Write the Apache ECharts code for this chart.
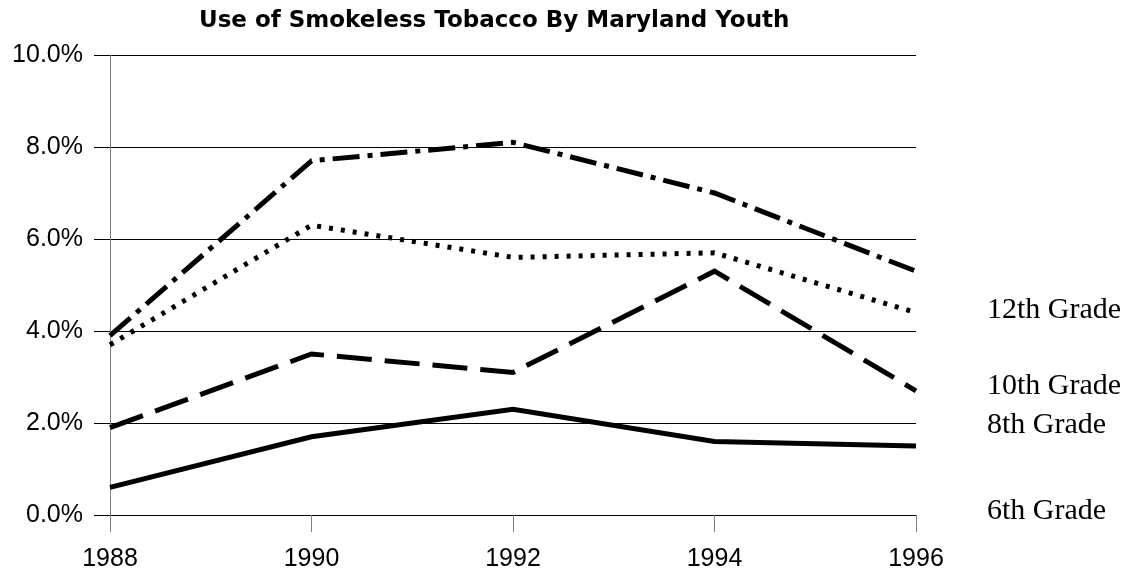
<!DOCTYPE html>
<html>
<head>
<meta charset="utf-8">
<script src="https://cdn.jsdelivr.net/npm/echarts@6/dist/echarts.min.js"></script>
<style>
  html, body { margin: 0; padding: 0; background: #fff; }
  #chart { width: 1139px; height: 573px; }
</style>
</head>
<body>
<div id="chart"></div>
<script>
// Survey years and percent of students using smokeless tobacco
const years = [1988, 1990, 1992, 1994, 1996];
const grade12 = [3.9, 7.7, 8.1, 7.0, 5.3];
const grade10 = [3.7, 6.3, 5.6, 5.7, 4.4];
const grade8 = [1.9, 3.5, 3.1, 5.3, 2.7];
const grade6 = [0.6, 1.7, 2.3, 1.6, 1.5];
const gradeNames = ['12th Grade', '10th Grade', '8th Grade', '6th Grade'];
const yTicks = [0, 2, 4, 6, 8, 10];

const pairs = (vals) => years.map((y, i) => [y, vals[i]]);

// dash patterns for each grade's line
const styles = [
  { data: grade12, dash: [27, 8, 5, 8] },
  { data: grade10, dash: [4, 8] },
  { data: grade8, dash: [35, 13] },
  { data: grade6, dash: 'solid' }
];

// text placement of the grade captions at the right
const captionY = [322, 398, 437, 523];

const chart = echarts.init(document.getElementById('chart'), null, { renderer: 'canvas' });
chart.setOption({
  animation: false,
  backgroundColor: '#ffffff',
  title: {
    text: 'Use of Smokeless Tobacco By Maryland Youth',
    left: 194,
    top: 5,
    textStyle: { fontFamily: 'DejaVu Sans', fontWeight: 'bold', fontSize: 23, color: '#000' }
  },
  grid: { left: 110, right: 223, top: 55, bottom: 58, containLabel: false },
  xAxis: {
    type: 'value',
    min: years[0],
    max: years[years.length - 1],
    interval: 2,
    axisLine: { show: false },
    axisTick: { show: true, length: 17, lineStyle: { color: '#808080', width: 1 } },
    splitLine: { show: false },
    axisLabel: {
      margin: 32,
      fontFamily: 'Liberation Sans, Arial',
      fontSize: 25,
      color: '#000',
      formatter: (v) => String(v)
    }
  },
  yAxis: {
    type: 'value',
    min: yTicks[0],
    max: yTicks[yTicks.length - 1],
    interval: 2,
    axisLine: { show: true, lineStyle: { color: '#808080', width: 1 } },
    axisTick: { show: true, length: 16, lineStyle: { color: '#000', width: 1 } },
    splitLine: { show: true, lineStyle: { color: '#000', width: 1 } },
    axisLabel: {
      margin: 27,
      fontFamily: 'Liberation Sans, Arial',
      fontSize: 25,
      color: '#000',
      formatter: (v) => v.toFixed(1) + '%'
    }
  },
  series: styles.map((s, i) => ({
    name: gradeNames[i],
    type: 'line',
    data: pairs(s.data),
    showSymbol: false,
    symbol: 'none',
    lineStyle: { color: '#000', width: 5, type: s.dash, cap: 'butt', join: 'miter' },
    z: 3
  })),
  graphic: gradeNames.map((name, i) => ({
    type: 'text',
    left: 987,
    top: captionY[i] - 27,
    style: {
      text: name,
      font: '30px "Liberation Serif", "Times New Roman", serif',
      fill: '#000'
    }
  }))
});
</script>
</body>
</html>
